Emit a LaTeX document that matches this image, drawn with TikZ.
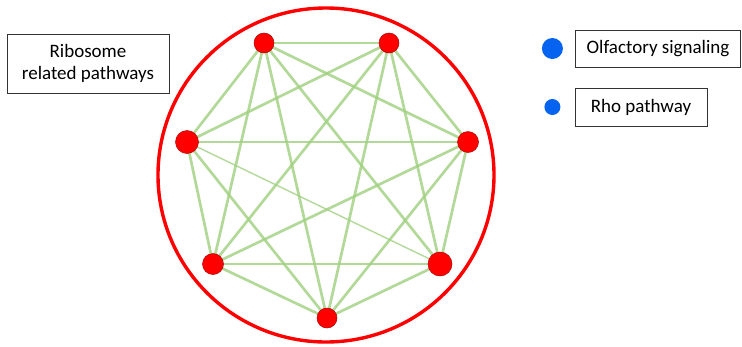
\documentclass[tikz,border=0pt]{standalone}
\usepackage{fontspec}
\setmainfont{Carlito}
\usetikzlibrary{positioning,calc,backgrounds}

\definecolor{linkgreen}{RGB}{160,208,128}
\definecolor{hubred}{RGB}{255,0,0}
\definecolor{hubblue}{RGB}{5,99,240}

\begin{document}
\begin{tikzpicture}[x=1pt,y=-1pt,
    hub/.style={circle, draw=red!70!black, line width=0.5pt, fill=hubred, inner sep=0pt},
    sig/.style={circle, fill=hubblue, inner sep=0pt},
    link/.style={linkgreen, line width=2.7pt, draw opacity=0.8},
    weaklink/.style={linkgreen, line width=1.4pt, draw opacity=0.8},
    tag/.style={draw=black!80, line width=0.8pt, font=\fontsize{19}{22}\selectfont, align=center, inner sep=0pt}]
    \useasboundingbox (0,0) rectangle (742,346);

    % Outer ring
    \draw[hubred, line width=3.4pt] (326,175) ellipse (168 and 167);

    % Pathway hubs
    \node[hub, minimum size=20pt] (a) at (264,43) {};
    \node[hub, minimum size=20pt] (b) at (389,43) {};
    \node[hub, minimum size=23pt] (c) at (187,142) {};
    \node[hub, minimum size=21pt] (d) at (468,142) {};
    \node[hub, minimum size=21pt] (e) at (213,264) {};
    \node[hub, minimum size=20pt] (f) at (327,318) {};
    \node[hub, minimum size=24pt] (g) at (440,264) {};

    % Links between every pair of hubs, behind the hubs
    \begin{pgfonlayer}{background}
        \foreach \s/\t in {a/b,a/c,a/d,a/e,a/f,a/g,
                           b/c,b/d,b/e,b/f,b/g,
                           c/d,c/e,c/f,
                           d/e,d/f,d/g,
                           e/f,e/g,f/g}
            \draw[link] (\s.center) -- (\t.center);
        \draw[weaklink] (c.center) -- (g.center);
    \end{pgfonlayer}

    % Labels
    \node[tag, minimum width=162pt, minimum height=59pt] (ribo) at (88,63.5) {Ribosome\\related pathways};
    \node[tag, minimum width=165pt, minimum height=37pt] (olf) at (658,48.5) {Olfactory signaling};
    \node[tag, minimum width=132pt, minimum height=38pt] (rho) at (641,107) {Rho pathway};

    % Legend dots
    \node[sig, minimum size=21pt, left=12pt of olf] (olfdot) {};
    \node[sig, minimum size=16pt] (rhodot) at (olfdot |- rho) {};
\end{tikzpicture}
\end{document}
